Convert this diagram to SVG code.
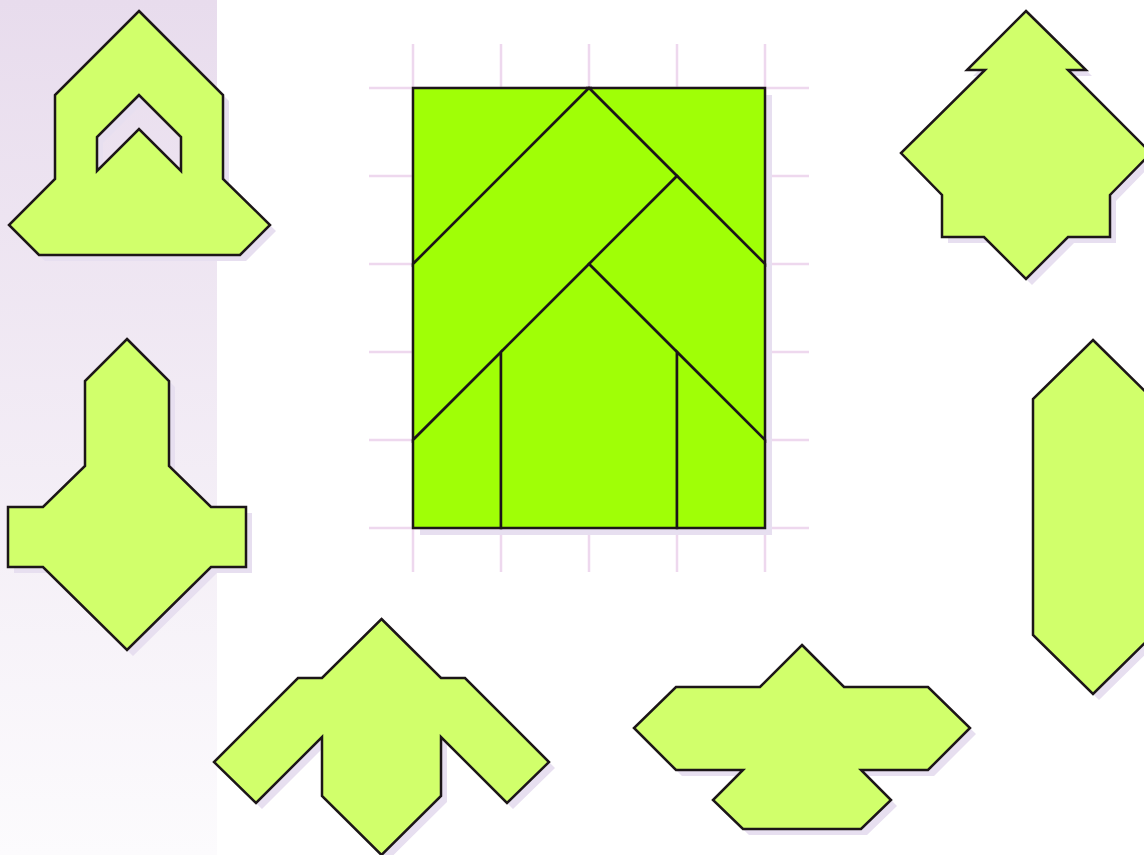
<svg xmlns="http://www.w3.org/2000/svg" width="1144" height="855" viewBox="0 0 1144 855">
<defs>
<linearGradient id="panel" x1="0" y1="0" x2="0" y2="1">
<stop offset="0" stop-color="#e8dced"/>
<stop offset="1" stop-color="#fcfbfd"/>
</linearGradient>
<style>
.sh{fill:#e7dff0;stroke:none;fill-rule:evenodd}
.pc{fill:#d1ff6b;stroke:#1c1618;stroke-width:2.5;stroke-linejoin:miter;fill-rule:evenodd}
.cp{fill:#a0ff06;stroke:#1c1618;stroke-width:2.5;stroke-linejoin:miter}
.gr{stroke:#eed8ee;stroke-width:2.5;fill:none}
</style>
</defs>
<rect width="1144" height="855" fill="#ffffff"/>
<rect x="0" y="0" width="217" height="855" fill="url(#panel)"/>

<g id="grid">
<path class="gr" d="M413 44V572M501 44V572M589 44V572M677 44V572M765 44V572M369 88H809M369 176H809M369 264H809M369 352H809M369 440H809M369 528H809"/>
</g>

<g id="puzzle">
<rect class="sh" x="420" y="95" width="352" height="440"/>
<polygon class="cp" points="413,88 589,88 413,264"/>
<polygon class="cp" points="589,88 765,88 765,264"/>
<polygon class="cp" points="413,264 589,88 677,176 413,440"/>
<polygon class="cp" points="677,176 765,264 765,440 589,264"/>
<polygon class="cp" points="413,440 501,352 501,528 413,528"/>
<polygon class="cp" points="501,352 589,264 677,352 677,528 501,528"/>
<polygon class="cp" points="677,352 765,440 765,528 677,528"/>
</g>

<g id="shape-house">
<path class="sh" transform="translate(6,6)" d="M139 11L223 95V179L270 225L240 255H39L9 225L55 179V95ZM139 95L97 137V171L139 129L181 171V137Z"/>
<path class="pc" d="M139 11L223 95V179L270 225L240 255H39L9 225L55 179V95ZM139 95L97 137V171L139 129L181 171V137Z"/>
</g>

<g id="shape-tree">
<path class="sh" transform="translate(6,6)" d="M1026 11L1086 70H1068L1151 153L1110 195V237H1068L1026 279L984 237H942V195L901 153L985 70H967Z"/>
<path class="pc" d="M1026 11L1086 70H1068L1151 153L1110 195V237H1068L1026 279L984 237H942V195L901 153L985 70H967Z"/>
</g>

<g id="shape-cross">
<path class="sh" transform="translate(6,6)" d="M127 339L169 381V466L211 507H246V567H211L127 650L43 567H8V507H43L85 466V381Z"/>
<path class="pc" d="M127 339L169 381V466L211 507H246V567H211L127 650L43 567H8V507H43L85 466V381Z"/>
</g>

<g id="shape-arrow">
<path class="sh" transform="translate(6,6)" d="M381.5 619L441 678H465L549 762L507 803L441 737V796L381.5 855L322 796V737L256 803L214 762L298 678H322Z"/>
<path class="pc" d="M381.5 619L441 678H465L549 762L507 803L441 737V796L381.5 855L322 796V737L256 803L214 762L298 678H322Z"/>
</g>

<g id="shape-bird">
<path class="sh" transform="translate(6,6)" d="M802 645L844 687H928L970 728L928 770H861L891 800L861 829H743L713 800L743 770H676L634 728L676 687H760Z"/>
<path class="pc" d="M802 645L844 687H928L970 728L928 770H861L891 800L861 829H743L713 800L743 770H676L634 728L676 687H760Z"/>
</g>

<g id="shape-hexagon">
<path class="sh" transform="translate(6,6)" d="M1093 340L1153 399V635L1093 694L1033 635V399Z"/>
<path class="pc" d="M1093 340L1153 399V635L1093 694L1033 635V399Z"/>
</g>
</svg>
